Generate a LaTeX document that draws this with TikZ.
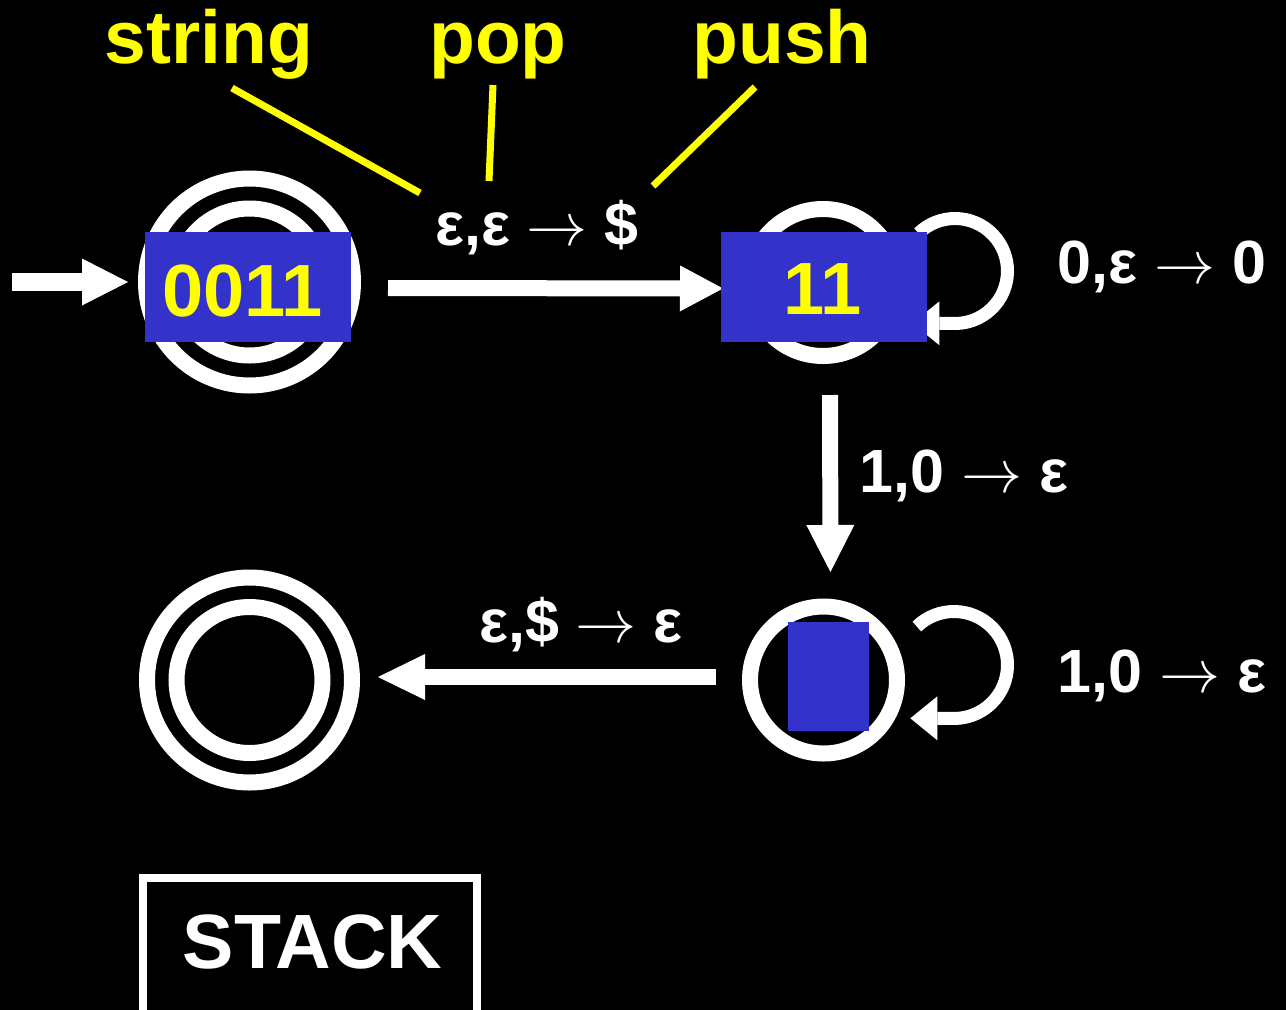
\documentclass[tikz,border=0pt]{standalone}
\usepackage{fontspec}
\usepackage{graphicx}
\setmainfont{Liberation Sans}
\usetikzlibrary{arrows.meta}
\definecolor{boxblue}{RGB}{51,51,204}
\definecolor{hiyellow}{RGB}{255,255,0}
% thin arrow used inside the transition labels
\newcommand{\tarrow}{\scalebox{6.1}{\normalsize$\rightarrow$}}
\begin{document}
\begin{tikzpicture}[x=1pt,y=-1pt,
  ring/.style={circle,draw=white,line width=16pt,inner sep=0pt,minimum size=#1},
  move/.style={draw=white,line width=16pt},
  loopedge/.style={draw=white,line width=13pt,-{Triangle[length=27pt,width=44pt,line width=0pt]}},
  tape/.style={fill=boxblue,inner sep=0pt,outer sep=0pt},
  tapetext/.style={text=hiyellow,font=\fontsize{74}{78}\selectfont\bfseries,anchor=base,inner sep=0pt},
  trans/.style={text=white,font=\fontsize{61}{64}\selectfont\bfseries,anchor=base,inner sep=0pt},
  note/.style={text=hiyellow,font=\fontsize{75}{78}\selectfont\bfseries,anchor=base,inner sep=0pt},
  pointer/.style={draw=hiyellow,line width=7pt}
]
\useasboundingbox (0,0) rectangle (1286,1010);
\fill[black] (0,0) rectangle (1286,1010);
\clip (0,0) rectangle (1286,1010);

% states
\node[ring=207pt] (s1) at (249.5,282) {};
\node[ring=147pt] (s1in) at (s1) {};
\node[ring=147pt] (s2) at (823,282.5) {};
\node[ring=147pt] (s3) at (823.5,680) {};
\node[ring=205pt] (s4) at (249.5,680) {};
\node[ring=146pt] (s4in) at (s4) {};

% start arrow
\coordinate (start) at (12,282);
\draw[move,line width=18pt,shorten >=10pt,-{Triangle[length=46pt,width=47pt,line width=0pt]}] (start) -- (s1.west);

% transitions
\draw[move,shorten <=27pt,shorten >=18.5pt,-{Triangle[length=43pt,width=46pt,line width=0pt]}]
  ([yshift=-6pt]s1.east) -- ([yshift=-6pt]s2.west);
\draw[move,shorten <=31pt,shorten >=26.5pt,-{Triangle[length=47pt,width=48pt,line width=0pt]}]
  ([xshift=7pt]s2.south) -- ([xshift=7pt]s3.north);
\draw[move,shorten <=26pt,shorten >=18pt,-{Triangle[length=47pt,width=46pt,line width=0pt]}]
  ([yshift=3pt]s3.west) -- ([yshift=3pt]s4.east);

% self loops
\coordinate (c2) at (955,271);
\coordinate (c3) at (954,665);
\draw[loopedge] (c2) ++(-134:52.5) arc[start angle=-134,end angle=95,radius=52.5] -- ++(-38,0);
\draw[loopedge] (c3) ++(-134:53.5) arc[start angle=-134,end angle=95,radius=53.5] -- ++(-39,0);

% input tape pieces
\node[tape,minimum width=206pt,minimum height=110pt] (t1) at (248,287) {};
\node[tape,minimum width=206pt,minimum height=110pt] (t2) at (824,287) {};
\node[tape,minimum width=81pt,minimum height=109pt] (t3) at (828.5,676.5) {};
\node[tapetext] (w1) at (242.5,316) {0011};
\node[tapetext] (w2) at (822.5,314) {11};

% transition labels
\node[trans] (l12) at (537,245) {ε,ε \tarrow{} \$};
\node[trans] (l22) at (1162,283) {0,ε \tarrow{} 0};
\node[trans] (l23) at (964,492) {1,0 \tarrow{} ε};
\node[trans] (l34) at (581,642) {ε,\$ \tarrow{} ε};
\node[trans] (l33) at (1162,692) {1,0 \tarrow{} ε};

% annotations
\node[note] (nstring) at (209,63) {string};
\node[note] (npop) at (498,63) {pop};
\node[note] (npush) at (782,63) {push};
\coordinate (ps0) at (232,88);
\coordinate (ps1) at (420,193);
\coordinate (pp0) at (493,85);
\coordinate (pp1) at (489,181);
\coordinate (pu0) at (755,87);
\coordinate (pu1) at (653,186);
\draw[pointer] (ps0) -- (ps1);
\draw[pointer] (pp0) -- (pp1);
\draw[pointer] (pu0) -- (pu1);

% stack
\node[draw=white,line width=8pt,inner sep=0pt,outer sep=0pt,minimum width=333.5pt,minimum height=160pt,anchor=north west] (stack) at (143,877.5) {};
\node[text=white,font=\fontsize{77}{80}\selectfont\bfseries,anchor=base,inner sep=0pt] (stacktext) at (312.5,968) {STACK};
\end{tikzpicture}
\end{document}
